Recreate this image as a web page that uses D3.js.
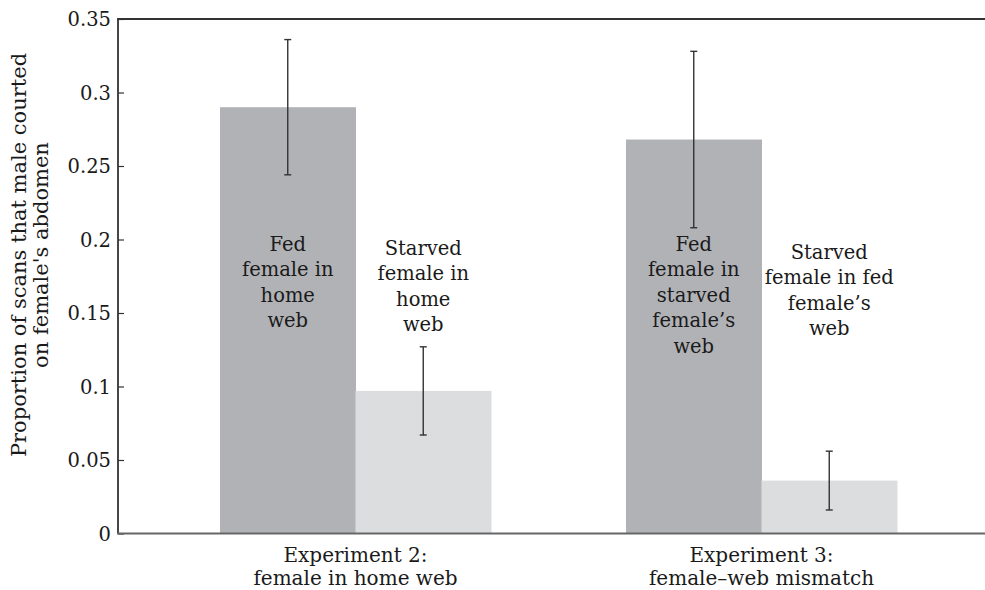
<!DOCTYPE html>
<html>
<head>
<meta charset="utf-8">
<script src="https://cdn.jsdelivr.net/npm/d3@7"></script>
<style>
  html, body { margin: 0; padding: 0; background: #fff; }
  svg text { font-family: "DejaVu Serif", "Liberation Serif", serif; fill: #1a1a1a; }
</style>
</head>
<body>
<svg id="chart" width="985" height="590"></svg>
<script>
// Experiments (groups along the x axis)
const groups = ["Experiment 2:\nfemale in home web", "Experiment 3:\nfemale\u2013web mismatch"];
// Conditions within each experiment
const conditions = ["fed", "starved"];
// Mean proportion of scans (per experiment, per condition)
const fedMeans = [0.29, 0.268];
const starvedMeans = [0.097, 0.036];
// Error bar half-widths
const fedErr = [0.046, 0.060];
const starvedErr = [0.030, 0.020];
// Text written on each bar
const fedLabels = [["Fed", "female in", "home", "web"], ["Fed", "female in", "starved", "female\u2019s", "web"]];
const starvedLabels = [["Starved", "female in", "home", "web"], ["Starved", "female in fed", "female\u2019s", "web"]];
// Y axis ticks
const yTicks = [0, 0.05, 0.1, 0.15, 0.2, 0.25, 0.3, 0.35];
const yTickLabels = ["0", "0.05", "0.1", "0.15", "0.2", "0.25", "0.3", "0.35"];
const yTitle = ["Proportion of scans that male courted", "on female's abdomen"];

const barColor = { fed: "#b1b2b6", starved: "#dcdddf" };

const svg = d3.select("#chart");
const plotLeft = 118, plotRight = 985, plotTop = 19, plotBottom = 533.5;

const y = d3.scaleLinear().domain([0, 0.35]).range([plotBottom, plotTop]);
const x0 = d3.scaleBand().domain(groups).range([220, 897]).paddingInner(0.3325).paddingOuter(0);
const x1 = d3.scaleBand().domain(conditions).range([0, x0.bandwidth()]).padding(0);

const rows = [];
groups.forEach((g, i) => {
  rows.push({ g, c: "fed", v: fedMeans[i], e: fedErr[i], lab: fedLabels[i] });
  rows.push({ g, c: "starved", v: starvedMeans[i], e: starvedErr[i], lab: starvedLabels[i] });
});

// Bars
svg.append("g").selectAll("rect").data(rows).join("rect")
  .attr("x", d => x0(d.g) + x1(d.c))
  .attr("y", d => y(d.v))
  .attr("width", x1.bandwidth() + 0.5)
  .attr("height", d => y(0) - y(d.v))
  .attr("fill", d => barColor[d.c]);

// Error bars
const eb = svg.append("g").attr("stroke", "#333").attr("stroke-width", 1.4);
rows.forEach(d => {
  const cx = x0(d.g) + x1(d.c) + x1.bandwidth() / 2;
  eb.append("line").attr("x1", cx).attr("x2", cx).attr("y1", y(d.v + d.e)).attr("y2", y(d.v - d.e));
  [d.v + d.e, d.v - d.e].forEach(v => {
    eb.append("line").attr("x1", cx - 3.5).attr("x2", cx + 3.5).attr("y1", y(v)).attr("y2", y(v));
  });
});

// Bar labels
const labelMid = { fed: [282, 295], starved: [286, 290] };
const lineH = 25.5;
rows.forEach(d => {
  const cx = x0(d.g) + x1(d.c) + x1.bandwidth() / 2;
  const gi = groups.indexOf(d.g);
  const n = d.lab.length;
  const y0 = labelMid[d.c][gi] - (n - 1) * lineH / 2;
  const t = svg.append("text").attr("text-anchor", "middle").attr("font-size", 19.5);
  d.lab.forEach((s, k) => {
    t.append("tspan").attr("x", cx).attr("y", y0 + k * lineH).attr("dy", "0.35em").text(s);
  });
});

// Y axis (ticks pointing into the plot)
const yAxis = d3.axisRight(y).tickValues(yTicks).tickSize(6).tickFormat((d, i) => yTickLabels[i]);
const ya = svg.append("g").attr("transform", `translate(${plotLeft},0)`).call(yAxis);
ya.select(".domain").remove();
ya.selectAll(".tick line").attr("stroke", "#333").attr("stroke-width", 1.2);
ya.selectAll(".tick text")
  .attr("x", -7).attr("text-anchor", "end").attr("dy", "0.35em")
  .attr("font-size", 19.5).attr("font-family", "DejaVu Serif, serif").attr("fill", "#1a1a1a");

// Frame lines
svg.append("line").attr("x1", plotLeft).attr("x2", plotLeft).attr("y1", plotTop).attr("y2", plotBottom)
  .attr("stroke", "#333").attr("stroke-width", 1.8);
svg.append("line").attr("x1", plotLeft - 0.9).attr("x2", plotRight).attr("y1", plotTop).attr("y2", plotTop)
  .attr("stroke", "#333").attr("stroke-width", 1.8);
svg.append("line").attr("x1", plotLeft - 0.9).attr("x2", plotRight).attr("y1", plotBottom).attr("y2", plotBottom)
  .attr("stroke", "#666").attr("stroke-width", 2);

// X axis category labels
groups.forEach(g => {
  const cx = x0(g) + x0.bandwidth() / 2;
  const t = svg.append("text").attr("text-anchor", "middle").attr("font-size", 20);
  g.split("\n").forEach((s, k) => {
    t.append("tspan").attr("x", cx).attr("y", 555 + k * 23).attr("dy", "0.35em").text(s);
  });
});

// Y axis title
const yt = svg.append("text").attr("text-anchor", "middle").attr("font-size", 21)
  .attr("transform", "translate(19,255) rotate(-90)");
yTitle.forEach((s, k) => {
  yt.append("tspan").attr("x", 0).attr("y", k * 22).attr("dy", "0.35em").text(s);
});
</script>
</body>
</html>
